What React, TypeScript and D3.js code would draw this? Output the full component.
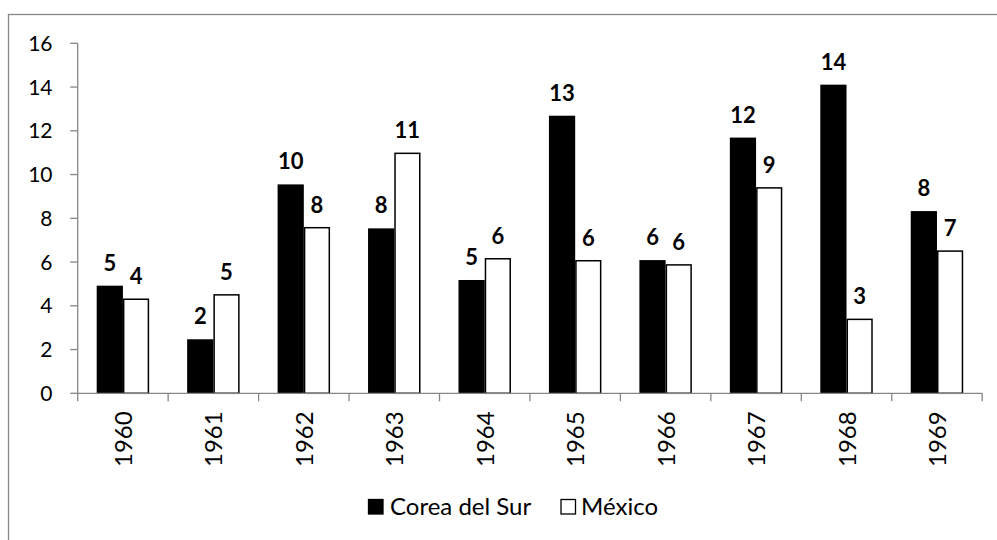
import { useEffect, useRef } from 'react';
import * as d3 from 'd3';

const YEARS = ['1960', '1961', '1962', '1963', '1964', '1965', '1966', '1967', '1968', '1969'];
const COREA = [4.92, 2.47, 9.55, 7.54, 5.18, 12.69, 6.09, 11.69, 14.11, 8.33];
const MEXICO = [4.3, 4.5, 7.57, 10.97, 6.15, 6.06, 5.87, 9.39, 3.38, 6.5];
const Y_TICKS = [0, 2, 4, 6, 8, 10, 12, 14, 16];
const SERIES = [
  { name: 'Corea del Sur', values: COREA, fill: '#000000' },
  { name: 'México', values: MEXICO, fill: '#ffffff' },
];

const FONT = 'Lato, "Open Sans", sans-serif';

export default function App() {
  const svgRef = useRef<SVGSVGElement>(null);

  useEffect(() => {
    if (!svgRef.current) return;
    const W = 997, H = 540;
    const PAD = { l: 77.7, r: 982.2, t: 43.3, b: 393.3 };
    const svg = d3.select(svgRef.current);
    svg.selectAll('*').remove();

    // outer chart frame (cut off on the right and bottom in the original)
    svg.append('rect')
      .attr('x', 8.5).attr('y', 14.5).attr('width', 1100).attr('height', 700)
      .attr('fill', '#fff').attr('stroke', '#868686').attr('stroke-width', 1.3);

    const x0 = d3.scaleBand().domain(YEARS).range([PAD.l, PAD.r]).paddingInner(0.42).paddingOuter(0.21);
    const x1 = d3.scaleBand().domain(SERIES.map(s => s.name)).range([0, x0.bandwidth()]);
    const y = d3.scaleLinear().domain([0, 16]).range([PAD.b, PAD.t]);
    const step = x0.step();

    // y axis
    svg.append('line')
      .attr('x1', PAD.l).attr('x2', PAD.l).attr('y1', PAD.t).attr('y2', PAD.b)
      .attr('stroke', '#868686').attr('stroke-width', 1.3);
    Y_TICKS.forEach(t => {
      svg.append('line')
        .attr('x1', PAD.l - 7.5).attr('x2', PAD.l).attr('y1', y(t)).attr('y2', y(t))
        .attr('stroke', '#868686').attr('stroke-width', 1.3);
      svg.append('text')
        .attr('x', 52.5).attr('y', y(t) + 7.5)
        .attr('text-anchor', 'end').attr('font-family', FONT).attr('font-size', 21).attr('fill', '#000')
        .text(t);
    });

    // bars
    SERIES.forEach(s => {
      s.values.forEach((v, i) => {
        const bx = (x0(YEARS[i]) ?? 0) + (x1(s.name) ?? 0);
        const isWhite = s.fill === '#ffffff';
        svg.append('rect')
          .attr('x', isWhite ? bx + 0.75 : bx).attr('y', y(v))
          .attr('width', isWhite ? x1.bandwidth() - 1.5 : x1.bandwidth())
          .attr('height', y(0) - y(v))
          .attr('fill', s.fill)
          .attr('stroke', isWhite ? '#000' : 'none').attr('stroke-width', 1.5);
        svg.append('text')
          .attr('x', bx + x1.bandwidth() / 2).attr('y', y(v) - 15)
          .attr('text-anchor', 'middle').attr('font-family', FONT).attr('font-weight', 700)
          .attr('font-size', 22).attr('fill', '#000')
          .text(Math.round(v));
      });
    });

    // x axis
    svg.append('line')
      .attr('x1', PAD.l).attr('x2', PAD.r).attr('y1', PAD.b).attr('y2', PAD.b)
      .attr('stroke', '#868686').attr('stroke-width', 1.3);
    d3.range(YEARS.length + 1).forEach(i => {
      const tx = PAD.l + i * step;
      svg.append('line')
        .attr('x1', tx).attr('x2', tx).attr('y1', PAD.b).attr('y2', PAD.b + 8)
        .attr('stroke', '#868686').attr('stroke-width', 1.3);
    });
    YEARS.forEach(yr => {
      const cx = (x0(yr) ?? 0) + x0.bandwidth() / 2;
      svg.append('text')
        .attr('transform', `translate(${cx + 9},${PAD.b + 18}) rotate(-90)`)
        .attr('text-anchor', 'end').attr('font-family', FONT).attr('font-size', 24).attr('fill', '#000')
        .text(yr);
    });

    // legend
    const legend = [
      { s: SERIES[0], sx: 368.5, tx: 390 },
      { s: SERIES[1], sx: 561, tx: 581 },
    ];
    legend.forEach(({ s, sx, tx }) => {
      svg.append('rect')
        .attr('x', sx).attr('y', 499.5).attr('width', 14.5).attr('height', 14.5)
        .attr('fill', s.fill).attr('stroke', '#000').attr('stroke-width', 1.3);
      svg.append('text')
        .attr('x', tx).attr('y', 514.5)
        .attr('font-family', FONT).attr('font-size', 24).attr('fill', '#000')
        .text(s.name);
    });
    svg.attr('width', W).attr('height', H);
  }, []);

  return (
    <div style={{ position: 'absolute', left: 0, top: 0, width: 997, height: 540, overflow: 'hidden', background: '#fff' }}>
      <svg ref={svgRef} width={997} height={540} style={{ display: 'block' }} />
    </div>
  );
}
